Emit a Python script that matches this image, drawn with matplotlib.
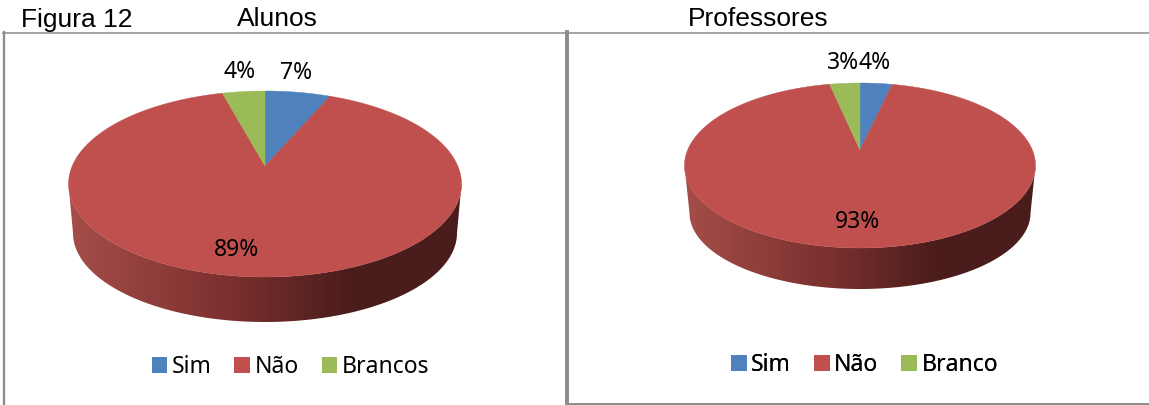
import numpy as np
import matplotlib
matplotlib.use('Agg')
import matplotlib.pyplot as plt
from matplotlib.patches import Polygon, Patch

colors = ['#4F81BD', '#C0504D', '#9BBB59']

alunos_labels = ['Sim', 'Não', 'Brancos']
alunos_values = [6.6, 89.1, 4.3]
prof_labels = ['Sim', 'Não', 'Branco']
prof_values = [3.6, 93.0, 3.4]


def rim_angle(theta, offset):
    # true angle on the disc -> angle on the rim, seen from the apex
    s, c = np.sin(theta), np.cos(theta)
    t = -offset * c + np.sqrt((offset * c) ** 2 + 1 - offset ** 2)
    return np.arctan2(t * s, offset + t * c)


def draw_pie(ax, values, cx, cy, a, b, apex_y, bot_a, bot_cy, bot_b):
    t = np.linspace(-np.pi / 2, np.pi / 2, 200)

    # side wall, clipped gradient
    top_edge = np.column_stack([cx + a * np.sin(t), cy + b * np.cos(t)])
    bot_edge = np.column_stack([cx + bot_a * np.sin(t), bot_cy + bot_b * np.cos(t)])
    side = Polygon(np.vstack([top_edge, bot_edge[::-1]]), closed=True, fc='none', ec='none')
    ax.add_patch(side)
    cmap = matplotlib.colors.LinearSegmentedColormap.from_list(
        'side', [(0, '#A54D49'), (0.4, '#7C312F'), (0.72, '#4A1C1B'), (1, '#4A1C1B')])
    img = ax.imshow(np.linspace(0, 1, 256).reshape(1, -1), cmap=cmap, aspect='auto',
                    extent=(cx - a, cx + a, bot_cy + bot_b, cy - 2), zorder=1)
    img.set_clip_path(side)

    # top face, clockwise from twelve o'clock
    offset = (cy - apex_y) / b
    start = 0
    for v, col in zip(values, colors):
        end = start + v * 2 * np.pi / sum(values)
        th = np.linspace(start, end, 300)
        ang = rim_angle(th, offset)
        ang = np.where(th > np.pi, ang + 2 * np.pi, ang)
        xs = cx + a * np.sin(ang)
        ys = cy - b * np.cos(ang)
        pts = np.vstack([[cx, apex_y], np.column_stack([xs, ys])])
        ax.add_patch(Polygon(pts, closed=True, fc=col, ec=col, lw=0.3, zorder=2))
        start = end


def draw_legend(ax, labels, x, y):
    handles = [Patch(fc=c, ec='none') for c in colors]
    leg = ax.legend(handles, labels, ncol=3, loc='center', bbox_to_anchor=(x, y),
                    bbox_transform=ax.transData, frameon=False, handlelength=0.68,
                    handleheight=0.68, handletextpad=0.2, columnspacing=1.0,
                    prop={'family': 'Noto Sans', 'size': 16.5})
    ax.add_artist(leg)


fig = plt.figure(figsize=(11.49, 4.05), dpi=100)
ax = fig.add_axes([0, 0, 1, 1])
ax.set_xlim(0, 1149)
ax.set_ylim(405, 0)
ax.axis('off')

# panel frames
ax.plot([3, 1149], [32.5, 32.5], color='#8C8C8C', lw=1.1)
ax.plot([4.2, 4.2], [32, 405], color='#8C8C8C', lw=1.7)
ax.plot([567, 567], [32, 404], color='#8C8C8C', lw=2.8)
ax.plot([567, 1149], [403.5, 403.5], color='#8C8C8C', lw=1.4)

draw_pie(ax, alunos_values, 265, 184, 196.5, 93, 166, 192, 233, 89)
draw_pie(ax, prof_values, 860, 165.5, 175.5, 82.5, 150, 170.5, 213, 76)

pct = dict(family='Noto Sans', fontsize=16.5, color='black', ha='center', va='center', zorder=3)
for val, x, y in zip(alunos_values, [296, 236.5, 239.5], [73, 250, 72]):
    ax.text(x, y, f'{val:.0f}%', **pct)
for val, x, y in zip(prof_values, [875, 857, 843], [63, 222, 63]):
    ax.text(x, y, f'{val:.0f}%', **pct)

draw_legend(ax, alunos_labels, 290.5, 367)
draw_legend(ax, prof_labels, 864.5, 365)

head = dict(family='Liberation Sans', fontsize=19, color='black', ha='left', va='baseline')
ax.text(21, 26.5, 'Figura 12', **head)
ax.text(237, 26.5, 'Alunos', **head)
ax.text(688, 26.5, 'Professores', **head)

fig.savefig('out.png', dpi=100)
